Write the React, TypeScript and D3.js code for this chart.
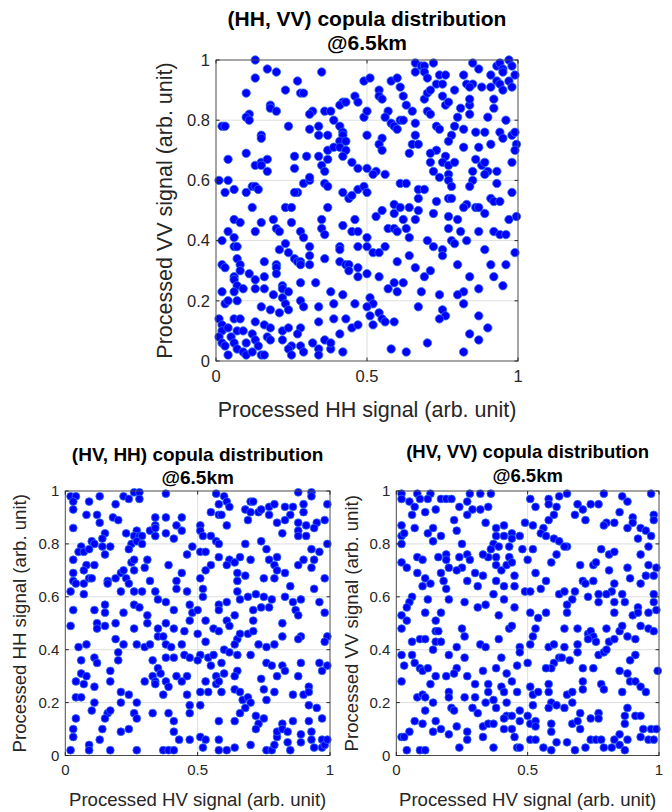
import React from "react";
import * as d3 from "d3";

const xTicks: number[] = [0, 0.5, 1];
const yTicks: number[] = [0, 0.2, 0.4, 0.6, 0.8, 1];

const titles: string[] = ["(HH, VV) copula distribution", "(HV, HH) copula distribution", "(HV, VV) copula distribution"];
const subtitle = "@6.5km";
const xLabels: string[] = ["Processed HH signal (arb. unit)", "Processed HV signal (arb. unit)", "Processed HV signal (arb. unit)"];
const yLabels: string[] = ["Processed VV signal (arb. unit)", "Processed HH signal (arb. unit)", "Processed VV signal (arb. unit)"];

// (HH, VV)
const hhVV: [number, number][] = [
  [0.13,1.00],[0.17,0.97],[0.20,0.96],[0.35,0.96],[0.13,0.94],[0.27,0.93],[0.49,0.93],[0.10,0.89],[0.23,0.90],[0.28,0.89],[0.29,0.89],[0.46,0.88],[0.47,0.86],[0.42,0.86],[0.41,0.85],[0.43,0.86],[0.18,0.85],[0.18,0.84],[0.20,0.83],[0.11,0.82],[0.10,0.81],[0.11,0.80],[0.32,0.83],[0.31,0.82],[0.36,0.83],[0.38,0.83],[0.49,0.81],[0.02,0.78],[0.03,0.78],[0.24,0.78],[0.31,0.77],[0.34,0.78],[0.34,0.75],[0.37,0.75],[0.39,0.80],[0.41,0.78],[0.42,0.76],[0.42,0.75],[0.41,0.73],[0.43,0.73],[0.15,0.75],[0.15,0.74],[0.10,0.69],[0.04,0.67],[0.13,0.65],[0.15,0.66],[0.17,0.67],[0.15,0.65],[0.17,0.63],[0.26,0.68],[0.30,0.68],[0.34,0.68],[0.37,0.70],[0.39,0.71],[0.41,0.71],[0.43,0.70],[0.42,0.68],[0.37,0.67],[0.35,0.65],[0.36,0.63],[0.45,0.66],[0.47,0.64],[0.26,0.64],[0.01,0.60],[0.04,0.60],[0.06,0.57],[0.03,0.56],[0.10,0.56],[0.12,0.58],[0.13,0.58],[0.14,0.57],[0.29,0.59],[0.31,0.60],[0.31,0.61],[0.27,0.56],[0.26,0.56],[0.36,0.59],[0.37,0.58],[0.42,0.56],[0.44,0.54],[0.45,0.55],[0.47,0.57],[0.49,0.58],
  [0.66,0.99],[0.68,0.98],[0.69,0.98],[0.72,0.99],[0.66,0.96],[0.69,0.96],[0.85,0.99],[0.87,0.97],[0.93,0.98],[0.94,0.99],[0.95,0.97],[0.97,1.00],[0.98,0.98],[0.95,0.96],[0.99,0.95],[0.51,0.94],[0.58,0.93],[0.60,0.94],[0.70,0.94],[0.74,0.95],[0.76,0.95],[0.73,0.92],[0.75,0.92],[0.82,0.95],[0.83,0.92],[0.85,0.92],[0.84,0.91],[0.88,0.91],[0.91,0.91],[0.91,0.95],[0.93,0.93],[0.94,0.92],[0.97,0.93],[0.98,0.91],[0.95,0.90],[0.79,0.90],[0.61,0.91],[0.54,0.90],[0.54,0.88],[0.55,0.87],[0.62,0.88],[0.63,0.85],[0.69,0.87],[0.70,0.89],[0.71,0.90],[0.75,0.88],[0.76,0.85],[0.77,0.86],[0.81,0.84],[0.84,0.85],[0.84,0.87],[0.92,0.87],[0.92,0.84],[0.50,0.83],[0.57,0.83],[0.56,0.81],[0.65,0.83],[0.70,0.83],[0.71,0.82],[0.58,0.79],[0.59,0.78],[0.60,0.77],[0.61,0.80],[0.62,0.80],[0.66,0.79],[0.80,0.81],[0.84,0.82],[0.90,0.81],[0.96,0.80],[0.73,0.78],[0.74,0.77],[0.79,0.78],[0.82,0.77],[0.86,0.76],[0.89,0.76],[0.94,0.76],[0.95,0.74],[0.98,0.75],[0.99,0.76],[0.995,0.72],[0.99,0.70],[0.50,0.75],[0.55,0.74],[0.54,0.72],[0.55,0.70],[0.66,0.75],[0.65,0.72],[0.67,0.72],[0.64,0.69],[0.78,0.75],[0.77,0.73],[0.73,0.70],[0.71,0.69],[0.82,0.71],[0.87,0.71],[0.91,0.72],[0.76,0.68],[0.71,0.66],[0.75,0.66],[0.77,0.65],[0.79,0.66],[0.86,0.67],[0.88,0.65],[0.89,0.66],[0.90,0.63],[0.89,0.62],[0.93,0.63],[0.98,0.66],[0.50,0.64],[0.53,0.63],[0.52,0.62],[0.56,0.62],[0.72,0.63],[0.74,0.61],[0.77,0.62],[0.77,0.60],[0.85,0.63],[0.85,0.60],[0.61,0.59],[0.63,0.59],[0.67,0.57],[0.69,0.57],[0.78,0.58],[0.84,0.58],[0.93,0.59],[0.98,0.56],[0.50,0.56],[0.59,0.52],[0.67,0.54],[0.73,0.53],[0.77,0.54],[0.78,0.54],[0.83,0.52],[0.91,0.54],[0.92,0.53],[0.94,0.53],
  [0.12,0.51],[0.23,0.51],[0.25,0.51],[0.37,0.51],[0.06,0.47],[0.08,0.46],[0.15,0.46],[0.19,0.47],[0.25,0.46],[0.35,0.47],[0.42,0.45],[0.46,0.47],[0.04,0.43],[0.13,0.43],[0.20,0.44],[0.21,0.43],[0.28,0.43],[0.29,0.41],[0.35,0.44],[0.36,0.42],[0.45,0.43],[0.47,0.43],[0.02,0.40],[0.06,0.41],[0.06,0.38],[0.07,0.38],[0.23,0.39],[0.21,0.37],[0.24,0.36],[0.31,0.38],[0.41,0.38],[0.41,0.37],[0.47,0.38],[0.02,0.32],[0.03,0.31],[0.07,0.34],[0.08,0.32],[0.08,0.30],[0.11,0.29],[0.16,0.33],[0.20,0.32],[0.20,0.31],[0.20,0.29],[0.26,0.34],[0.27,0.33],[0.28,0.33],[0.28,0.32],[0.31,0.35],[0.31,0.32],[0.36,0.34],[0.41,0.33],[0.43,0.32],[0.44,0.32],[0.44,0.30],[0.47,0.31],[0.47,0.28],[0.06,0.28],[0.06,0.27],[0.07,0.25],[0.09,0.24],[0.13,0.27],[0.16,0.28],[0.13,0.24],[0.16,0.24],[0.22,0.25],[0.22,0.24],[0.24,0.23],[0.28,0.26],[0.33,0.26],[0.02,0.23],[0.06,0.23],[0.03,0.19],[0.04,0.20],[0.07,0.20],[0.15,0.18],[0.19,0.22],[0.22,0.21],[0.23,0.19],[0.24,0.17],[0.18,0.17],[0.21,0.16],[0.28,0.20],[0.29,0.18],[0.34,0.18],[0.38,0.23],[0.39,0.19],[0.42,0.22],[0.46,0.19],[0.01,0.14],[0.02,0.12],[0.02,0.10],[0.04,0.11],[0.06,0.14],[0.07,0.10],[0.08,0.14],[0.09,0.10],[0.13,0.13],[0.16,0.12],[0.18,0.11],[0.22,0.10],[0.24,0.11],[0.28,0.11],[0.27,0.09],[0.34,0.13],[0.39,0.14],[0.43,0.14],[0.45,0.11],[0.47,0.12],[0.01,0.08],[0.02,0.06],[0.03,0.05],[0.04,0.02],[0.05,0.08],[0.06,0.06],[0.07,0.04],[0.09,0.03],[0.10,0.06],[0.12,0.09],[0.13,0.07],[0.14,0.05],[0.15,0.02],[0.16,0.02],[0.10,0.02],[0.12,0.03],[0.17,0.08],[0.18,0.07],[0.22,0.07],[0.25,0.05],[0.24,0.04],[0.25,0.02],[0.28,0.05],[0.29,0.03],[0.32,0.06],[0.34,0.04],[0.34,0.02],[0.36,0.07],[0.38,0.04],[0.38,0.06],[0.41,0.09],[0.42,0.03],
  [0.55,0.50],[0.59,0.49],[0.61,0.51],[0.64,0.51],[0.67,0.50],[0.53,0.48],[0.72,0.49],[0.77,0.48],[0.80,0.47],[0.82,0.51],[0.86,0.51],[0.87,0.51],[0.89,0.49],[0.97,0.47],[0.995,0.48],[0.57,0.44],[0.59,0.44],[0.60,0.43],[0.63,0.44],[0.62,0.47],[0.66,0.47],[0.77,0.44],[0.81,0.43],[0.87,0.43],[0.92,0.43],[0.94,0.42],[0.96,0.42],[0.50,0.41],[0.50,0.38],[0.52,0.36],[0.54,0.36],[0.56,0.38],[0.64,0.41],[0.70,0.40],[0.72,0.38],[0.75,0.37],[0.75,0.35],[0.78,0.40],[0.79,0.39],[0.83,0.40],[0.89,0.37],[0.99,0.36],[0.60,0.33],[0.64,0.35],[0.66,0.31],[0.69,0.28],[0.71,0.30],[0.80,0.32],[0.91,0.32],[0.96,0.32],[0.50,0.29],[0.54,0.28],[0.57,0.24],[0.59,0.26],[0.60,0.23],[0.62,0.26],[0.68,0.23],[0.84,0.28],[0.82,0.23],[0.80,0.22],[0.87,0.24],[0.92,0.28],[0.95,0.25],[0.51,0.21],[0.52,0.19],[0.50,0.18],[0.51,0.15],[0.54,0.16],[0.55,0.14],[0.56,0.13],[0.59,0.13],[0.52,0.12],[0.74,0.22],[0.67,0.18],[0.75,0.17],[0.76,0.15],[0.74,0.14],[0.82,0.19],[0.87,0.15],[0.90,0.11],[0.84,0.09],[0.87,0.07],[0.70,0.06],[0.58,0.04],[0.63,0.03],[0.82,0.03]
];

// (HV, HH)
const hvHH: [number, number][] = [
  [0.02,0.98],[0.04,0.98],[0.03,0.96],[0.03,0.93],[0.09,0.96],[0.13,0.98],[0.19,0.95],[0.22,0.98],[0.24,0.97],[0.26,0.995],[0.28,0.995],[0.28,0.97],[0.38,0.99],[0.08,0.91],[0.12,0.91],[0.13,0.88],[0.18,0.90],[0.20,0.89],[0.03,0.86],[0.23,0.84],[0.27,0.85],[0.26,0.83],[0.28,0.83],[0.29,0.83],[0.34,0.90],[0.38,0.90],[0.44,0.90],[0.34,0.87],[0.32,0.85],[0.34,0.86],[0.34,0.83],[0.38,0.84],[0.42,0.87],[0.44,0.85],[0.41,0.82],[0.15,0.84],[0.14,0.82],[0.10,0.81],[0.11,0.80],[0.06,0.79],[0.05,0.77],[0.07,0.77],[0.09,0.78],[0.14,0.79],[0.17,0.79],[0.15,0.76],[0.25,0.80],[0.27,0.81],[0.24,0.78],[0.29,0.80],[0.48,0.79],[0.46,0.76],[0.03,0.74],[0.08,0.72],[0.11,0.72],[0.07,0.70],[0.03,0.69],[0.03,0.66],[0.04,0.65],[0.07,0.65],[0.09,0.67],[0.10,0.67],[0.16,0.66],[0.16,0.65],[0.19,0.67],[0.21,0.69],[0.22,0.70],[0.25,0.73],[0.26,0.74],[0.31,0.74],[0.30,0.71],[0.26,0.70],[0.23,0.67],[0.24,0.65],[0.21,0.62],[0.26,0.62],[0.29,0.62],[0.32,0.66],[0.34,0.62],[0.35,0.59],[0.38,0.58],[0.39,0.72],[0.44,0.69],[0.42,0.66],[0.42,0.63],[0.46,0.62],[0.07,0.61],[0.02,0.62],[0.03,0.55],[0.11,0.55],[0.15,0.57],[0.15,0.54],[0.22,0.54],[0.26,0.57],[0.28,0.56],[0.31,0.53],[0.41,0.55],[0.47,0.57],[0.48,0.54],[0.47,0.51],
  [0.57,0.99],[0.60,0.98],[0.61,0.96],[0.58,0.95],[0.62,0.94],[0.55,0.92],[0.58,0.91],[0.59,0.91],[0.61,0.87],[0.68,0.93],[0.70,0.96],[0.71,0.96],[0.70,0.92],[0.69,0.89],[0.73,0.92],[0.74,0.93],[0.77,0.94],[0.77,0.91],[0.79,0.95],[0.83,0.94],[0.86,0.94],[0.85,0.91],[0.88,0.995],[0.93,0.995],[0.93,0.98],[0.90,0.95],[0.90,0.92],[0.99,0.95],[0.80,0.88],[0.83,0.89],[0.82,0.84],[0.88,0.88],[0.88,0.85],[0.91,0.87],[0.88,0.83],[0.91,0.83],[0.95,0.88],[0.94,0.86],[0.98,0.89],[0.99,0.80],[0.51,0.87],[0.51,0.85],[0.52,0.83],[0.55,0.83],[0.57,0.81],[0.58,0.80],[0.68,0.80],[0.74,0.81],[0.76,0.78],[0.93,0.78],[0.96,0.77],[0.51,0.77],[0.53,0.77],[0.58,0.75],[0.62,0.74],[0.61,0.72],[0.64,0.73],[0.66,0.75],[0.70,0.74],[0.77,0.74],[0.80,0.75],[0.79,0.72],[0.80,0.70],[0.83,0.69],[0.88,0.72],[0.90,0.74],[0.93,0.71],[0.94,0.74],[0.98,0.67],[0.55,0.72],[0.53,0.70],[0.51,0.67],[0.65,0.69],[0.68,0.68],[0.65,0.66],[0.75,0.67],[0.79,0.67],[0.85,0.64],[0.83,0.60],[0.94,0.63],[0.52,0.63],[0.52,0.60],[0.65,0.62],[0.66,0.59],[0.69,0.60],[0.72,0.61],[0.75,0.60],[0.78,0.59],[0.61,0.58],[0.58,0.57],[0.58,0.55],[0.61,0.51],[0.64,0.53],[0.71,0.55],[0.71,0.51],[0.74,0.56],[0.77,0.56],[0.86,0.58],[0.89,0.59],[0.87,0.55],[0.88,0.53],[0.96,0.58],[0.98,0.54],[0.50,0.55],[0.53,0.51],
  [0.02,0.49],[0.12,0.50],[0.12,0.48],[0.15,0.49],[0.19,0.50],[0.26,0.48],[0.31,0.50],[0.35,0.48],[0.38,0.50],[0.41,0.48],[0.45,0.47],[0.19,0.44],[0.22,0.42],[0.27,0.42],[0.30,0.41],[0.32,0.42],[0.35,0.45],[0.37,0.45],[0.38,0.42],[0.40,0.41],[0.44,0.42],[0.05,0.41],[0.08,0.42],[0.20,0.39],[0.45,0.38],[0.38,0.37],[0.41,0.37],[0.47,0.37],[0.06,0.36],[0.11,0.37],[0.12,0.35],[0.20,0.36],[0.33,0.36],[0.35,0.33],[0.33,0.30],[0.36,0.31],[0.34,0.28],[0.34,0.27],[0.38,0.28],[0.39,0.26],[0.42,0.30],[0.46,0.30],[0.44,0.28],[0.17,0.32],[0.06,0.31],[0.08,0.30],[0.04,0.28],[0.07,0.27],[0.17,0.28],[0.11,0.26],[0.30,0.28],[0.21,0.24],[0.24,0.23],[0.37,0.23],[0.46,0.23],[0.04,0.22],[0.06,0.22],[0.11,0.20],[0.10,0.17],[0.16,0.16],[0.15,0.14],[0.17,0.17],[0.21,0.20],[0.27,0.20],[0.26,0.16],[0.27,0.14],[0.33,0.16],[0.39,0.16],[0.41,0.13],[0.41,0.09],[0.43,0.06],[0.47,0.19],[0.47,0.16],[0.04,0.14],[0.03,0.10],[0.03,0.07],[0.14,0.10],[0.13,0.06],[0.21,0.09],[0.24,0.10],[0.02,0.02],[0.09,0.04],[0.09,0.02],[0.17,0.02],[0.27,0.02],[0.37,0.02],[0.39,0.02],[0.41,0.02],[0.47,0.06],
  [0.62,0.49],[0.82,0.50],[0.50,0.46],[0.56,0.48],[0.58,0.47],[0.53,0.43],[0.65,0.44],[0.66,0.46],[0.69,0.46],[0.71,0.47],[0.82,0.45],[0.89,0.45],[0.88,0.44],[0.99,0.45],[0.98,0.43],[0.73,0.42],[0.76,0.41],[0.79,0.42],[0.64,0.42],[0.60,0.40],[0.62,0.39],[0.51,0.38],[0.50,0.36],[0.54,0.37],[0.56,0.38],[0.55,0.34],[0.59,0.35],[0.65,0.38],[0.70,0.38],[0.76,0.35],[0.78,0.34],[0.82,0.34],[0.83,0.32],[0.80,0.30],[0.89,0.35],[0.88,0.30],[0.96,0.35],[0.97,0.32],[0.99,0.34],[0.65,0.32],[0.64,0.30],[0.60,0.31],[0.57,0.30],[0.57,0.27],[0.53,0.28],[0.58,0.28],[0.74,0.29],[0.75,0.25],[0.51,0.24],[0.54,0.24],[0.59,0.24],[0.64,0.25],[0.66,0.24],[0.79,0.24],[0.86,0.23],[0.90,0.23],[0.92,0.26],[0.92,0.24],[0.67,0.21],[0.69,0.22],[0.70,0.20],[0.68,0.18],[0.66,0.16],[0.76,0.21],[0.51,0.19],[0.58,0.13],[0.64,0.13],[0.72,0.15],[0.75,0.14],[0.73,0.12],[0.72,0.10],[0.82,0.12],[0.86,0.13],[0.92,0.19],[0.95,0.18],[0.92,0.13],[0.97,0.14],[0.51,0.07],[0.53,0.06],[0.52,0.03],[0.58,0.06],[0.58,0.02],[0.61,0.02],[0.64,0.03],[0.70,0.04],[0.76,0.02],[0.78,0.02],[0.79,0.04],[0.80,0.07],[0.80,0.09],[0.82,0.10],[0.84,0.09],[0.84,0.05],[0.85,0.02],[0.89,0.05],[0.89,0.08],[0.93,0.09],[0.93,0.06],[0.94,0.03],[0.97,0.03],[0.97,0.06],[0.98,0.04],[0.99,0.06]
];

// (HV, VV)
const hvVV: [number, number][] = [
  [0.02,0.99],[0.02,0.97],[0.08,0.99],[0.13,0.99],[0.09,0.97],[0.12,0.97],[0.05,0.96],[0.07,0.94],[0.11,0.92],[0.15,0.93],[0.17,0.97],[0.19,0.97],[0.21,0.97],[0.24,0.94],[0.27,0.96],[0.28,0.99],[0.32,0.99],[0.36,0.99],[0.27,0.91],[0.29,0.93],[0.32,0.93],[0.35,0.94],[0.34,0.88],[0.06,0.91],[0.07,0.86],[0.02,0.87],[0.02,0.83],[0.03,0.84],[0.02,0.80],[0.12,0.84],[0.14,0.86],[0.14,0.81],[0.17,0.83],[0.22,0.89],[0.23,0.85],[0.25,0.80],[0.38,0.86],[0.41,0.87],[0.38,0.83],[0.41,0.83],[0.44,0.84],[0.44,0.82],[0.47,0.83],[0.49,0.88],[0.37,0.80],[0.39,0.79],[0.36,0.78],[0.35,0.75],[0.43,0.79],[0.48,0.78],[0.43,0.75],[0.08,0.75],[0.10,0.74],[0.16,0.75],[0.19,0.76],[0.19,0.74],[0.20,0.71],[0.24,0.75],[0.27,0.76],[0.28,0.74],[0.25,0.71],[0.23,0.70],[0.30,0.69],[0.33,0.76],[0.33,0.68],[0.38,0.75],[0.38,0.72],[0.40,0.70],[0.42,0.72],[0.44,0.73],[0.45,0.68],[0.02,0.73],[0.04,0.71],[0.08,0.69],[0.11,0.67],[0.13,0.65],[0.10,0.64],[0.17,0.69],[0.18,0.66],[0.19,0.63],[0.20,0.59],[0.27,0.66],[0.31,0.64],[0.38,0.66],[0.41,0.64],[0.45,0.64],[0.49,0.62],[0.06,0.60],[0.05,0.58],[0.04,0.56],[0.12,0.59],[0.02,0.53],[0.04,0.51],[0.11,0.54],[0.17,0.54],[0.15,0.51],[0.26,0.58],[0.31,0.56],[0.34,0.57],[0.37,0.61],[0.41,0.59],[0.39,0.53],[0.45,0.56],
  [0.51,0.97],[0.53,0.94],[0.58,0.97],[0.58,0.95],[0.62,0.98],[0.65,0.99],[0.61,0.94],[0.60,0.91],[0.58,0.89],[0.52,0.87],[0.56,0.86],[0.55,0.84],[0.57,0.83],[0.69,0.95],[0.71,0.93],[0.74,0.95],[0.77,0.95],[0.68,0.91],[0.72,0.89],[0.79,0.99],[0.86,0.98],[0.88,0.96],[0.97,0.99],[0.85,0.92],[0.80,0.88],[0.79,0.87],[0.83,0.88],[0.90,0.90],[0.90,0.88],[0.88,0.86],[0.98,0.91],[0.98,0.89],[0.93,0.86],[0.95,0.85],[0.97,0.83],[0.92,0.82],[0.96,0.79],[0.60,0.82],[0.62,0.81],[0.65,0.79],[0.64,0.79],[0.52,0.78],[0.50,0.74],[0.61,0.76],[0.59,0.73],[0.78,0.78],[0.81,0.76],[0.83,0.77],[0.93,0.76],[0.53,0.69],[0.51,0.62],[0.55,0.63],[0.57,0.66],[0.70,0.72],[0.75,0.72],[0.76,0.73],[0.81,0.70],[0.88,0.71],[0.96,0.72],[0.99,0.71],[0.98,0.68],[0.95,0.68],[0.89,0.67],[0.93,0.65],[0.71,0.66],[0.72,0.65],[0.75,0.66],[0.83,0.65],[0.82,0.62],[0.62,0.61],[0.64,0.62],[0.68,0.62],[0.67,0.59],[0.65,0.57],[0.65,0.54],[0.73,0.60],[0.77,0.61],[0.77,0.58],[0.80,0.61],[0.83,0.58],[0.86,0.61],[0.87,0.58],[0.92,0.56],[0.98,0.61],[0.98,0.58],[0.99,0.55],[0.51,0.54],[0.54,0.52],[0.57,0.54],[0.83,0.54],[0.90,0.53],[0.92,0.54],[0.96,0.54],
  [0.02,0.48],[0.15,0.47],[0.16,0.47],[0.25,0.48],[0.26,0.45],[0.43,0.48],[0.44,0.49],[0.06,0.43],[0.09,0.44],[0.11,0.44],[0.15,0.43],[0.17,0.43],[0.14,0.40],[0.23,0.41],[0.32,0.42],[0.34,0.41],[0.39,0.44],[0.47,0.41],[0.02,0.38],[0.06,0.38],[0.07,0.35],[0.03,0.34],[0.09,0.33],[0.10,0.32],[0.12,0.33],[0.20,0.38],[0.26,0.37],[0.23,0.33],[0.22,0.31],[0.15,0.30],[0.19,0.30],[0.27,0.30],[0.33,0.32],[0.38,0.33],[0.40,0.37],[0.47,0.39],[0.42,0.31],[0.46,0.34],[0.44,0.28],[0.02,0.28],[0.13,0.27],[0.30,0.27],[0.35,0.27],[0.40,0.26],[0.08,0.22],[0.10,0.23],[0.11,0.22],[0.14,0.20],[0.20,0.24],[0.20,0.22],[0.26,0.22],[0.30,0.22],[0.35,0.24],[0.37,0.21],[0.41,0.24],[0.42,0.20],[0.46,0.24],[0.11,0.17],[0.21,0.18],[0.22,0.17],[0.29,0.18],[0.31,0.16],[0.34,0.20],[0.38,0.18],[0.42,0.15],[0.47,0.17],[0.07,0.13],[0.10,0.12],[0.15,0.13],[0.14,0.09],[0.17,0.10],[0.20,0.08],[0.23,0.11],[0.27,0.09],[0.27,0.06],[0.33,0.07],[0.33,0.11],[0.35,0.12],[0.37,0.12],[0.41,0.14],[0.41,0.10],[0.44,0.15],[0.44,0.10],[0.45,0.07],[0.47,0.13],[0.05,0.09],[0.02,0.07],[0.03,0.07],[0.04,0.02],[0.09,0.02],[0.11,0.02],[0.24,0.03],[0.37,0.03],[0.46,0.03],[0.47,0.03],
  [0.53,0.48],[0.64,0.48],[0.69,0.48],[0.73,0.46],[0.74,0.47],[0.75,0.45],[0.73,0.44],[0.76,0.43],[0.80,0.48],[0.85,0.47],[0.86,0.49],[0.88,0.45],[0.93,0.49],[0.96,0.48],[0.98,0.47],[0.81,0.43],[0.83,0.44],[0.91,0.44],[0.52,0.45],[0.51,0.42],[0.58,0.41],[0.60,0.42],[0.64,0.41],[0.69,0.39],[0.69,0.42],[0.77,0.38],[0.79,0.39],[0.80,0.40],[0.91,0.38],[0.89,0.36],[0.50,0.35],[0.62,0.37],[0.60,0.35],[0.63,0.37],[0.66,0.36],[0.59,0.33],[0.57,0.33],[0.71,0.33],[0.75,0.33],[0.85,0.32],[0.88,0.31],[0.89,0.28],[0.91,0.28],[0.93,0.26],[0.95,0.24],[0.995,0.32],[0.51,0.26],[0.52,0.23],[0.54,0.24],[0.58,0.27],[0.58,0.24],[0.65,0.23],[0.67,0.24],[0.71,0.28],[0.71,0.25],[0.78,0.27],[0.79,0.25],[0.86,0.24],[0.52,0.19],[0.50,0.15],[0.51,0.12],[0.53,0.13],[0.53,0.11],[0.59,0.20],[0.61,0.19],[0.64,0.18],[0.67,0.20],[0.58,0.18],[0.59,0.12],[0.59,0.09],[0.70,0.16],[0.77,0.16],[0.74,0.14],[0.77,0.14],[0.67,0.12],[0.69,0.13],[0.70,0.10],[0.87,0.15],[0.91,0.15],[0.88,0.18],[0.93,0.15],[0.87,0.12],[0.94,0.10],[0.97,0.10],[0.99,0.10],[0.93,0.07],[0.96,0.06],[0.85,0.08],[0.51,0.06],[0.53,0.06],[0.56,0.03],[0.59,0.02],[0.61,0.05],[0.65,0.05],[0.68,0.02],[0.72,0.03],[0.74,0.06],[0.76,0.06],[0.78,0.06],[0.79,0.03],[0.82,0.03],[0.83,0.06],[0.85,0.04],[0.88,0.06],[0.87,0.02],[0.98,0.06]
];

const FONT = "'Liberation Sans', Arial, Helvetica, sans-serif";
const AX = "#262626";

type PanelProps = {
  left: number; right: number; top: number; bottom: number;
  points: [number, number][];
  title: string; xLabel: string; yLabel: string;
  titleSize: number; labelSize: number; tickSize: number;
  title1Y: number; title2Y: number; xLabelY: number; yLabelX: number;
  r: number;
};

function Panel(p: PanelProps) {
  const x = d3.scaleLinear().domain([0, 1]).range([p.left, p.right]);
  const y = d3.scaleLinear().domain([0, 1]).range([p.bottom, p.top]);
  const fmt = d3.format("~g");
  const cx = (p.left + p.right) / 2;
  const cy = (p.top + p.bottom) / 2;
  const tl = 3.5;
  return (
    <g fontFamily={FONT}>
      <rect x={p.left} y={p.top} width={p.right - p.left} height={p.bottom - p.top} fill="#fff" />
      {xTicks.filter(t => t > 0 && t < 1).map(t => (
        <line key={"gx" + t} x1={x(t)} x2={x(t)} y1={p.top} y2={p.bottom} stroke="#dedede" strokeWidth={1} />
      ))}
      {yTicks.filter(t => t > 0 && t < 1).map(t => (
        <line key={"gy" + t} x1={p.left} x2={p.right} y1={y(t)} y2={y(t)} stroke="#dedede" strokeWidth={1} />
      ))}
      {p.points.map((d, i) => (
        <circle key={i} cx={x(d[0])} cy={y(d[1])} r={p.r} fill="#0000ff" stroke="#2f6fe6" strokeWidth={0.8} />
      ))}
      <rect x={p.left} y={p.top} width={p.right - p.left} height={p.bottom - p.top} fill="none" stroke="#4d4d4d" strokeWidth={1} />
      {xTicks.map(t => (
        <g key={"xt" + t}>
          <line x1={x(t)} x2={x(t)} y1={p.bottom} y2={p.bottom - tl} stroke={AX} />
          <line x1={x(t)} x2={x(t)} y1={p.top} y2={p.top + tl} stroke={AX} />
          <text x={x(t)} y={p.bottom + p.tickSize + 4} textAnchor="middle" fontSize={p.tickSize} fill={AX}>{fmt(t)}</text>
        </g>
      ))}
      {yTicks.map(t => (
        <g key={"yt" + t}>
          <line x1={p.left} x2={p.left + tl} y1={y(t)} y2={y(t)} stroke={AX} />
          <line x1={p.right} x2={p.right - tl} y1={y(t)} y2={y(t)} stroke={AX} />
          <text x={p.left - 6} y={y(t)} dy="0.35em" textAnchor="end" fontSize={p.tickSize} fill={AX}>{fmt(t)}</text>
        </g>
      ))}
      <text x={cx} y={p.title1Y} textAnchor="middle" fontWeight="bold" fontSize={p.titleSize} fill="#000">{p.title}</text>
      <text x={cx} y={p.title2Y} textAnchor="middle" fontWeight="bold" fontSize={p.titleSize} fill="#000">{subtitle}</text>
      <text x={cx} y={p.xLabelY} textAnchor="middle" fontSize={p.labelSize} fill={AX}>{p.xLabel}</text>
      <text transform={`translate(${p.yLabelX},${cy}) rotate(-90)`} textAnchor="middle" fontSize={p.labelSize} fill={AX}>{p.yLabel}</text>
    </g>
  );
}

export default function App() {
  return (
    <svg width={672} height={812} style={{ display: "block", position: "absolute", left: 0, top: 0 }}>
      <rect width={672} height={812} fill="#fff" />
      <Panel left={216} right={518} top={60} bottom={361} points={hhVV}
        title={titles[0]} xLabel={xLabels[0]} yLabel={yLabels[0]}
        titleSize={21} labelSize={21.5} tickSize={16.5}
        title1Y={26} title2Y={50} xLabelY={417} yLabelX={172} r={4.2} />
      <Panel left={65.3} right={330} top={491} bottom={755.5} points={hvHH}
        title={titles[1]} xLabel={xLabels[1]} yLabel={yLabels[1]}
        titleSize={19} labelSize={18.6} tickSize={15}
        title1Y={461} title2Y={484} xLabelY={806} yLabelX={26} r={3.9} />
      <Panel left={396.3} right={659} top={491} bottom={755.5} points={hvVV}
        title={titles[2]} xLabel={xLabels[2]} yLabel={yLabels[2]}
        titleSize={18.5} labelSize={18.6} tickSize={15}
        title1Y={458} title2Y={482} xLabelY={806} yLabelX={358} r={3.9} />
    </svg>
  );
}
